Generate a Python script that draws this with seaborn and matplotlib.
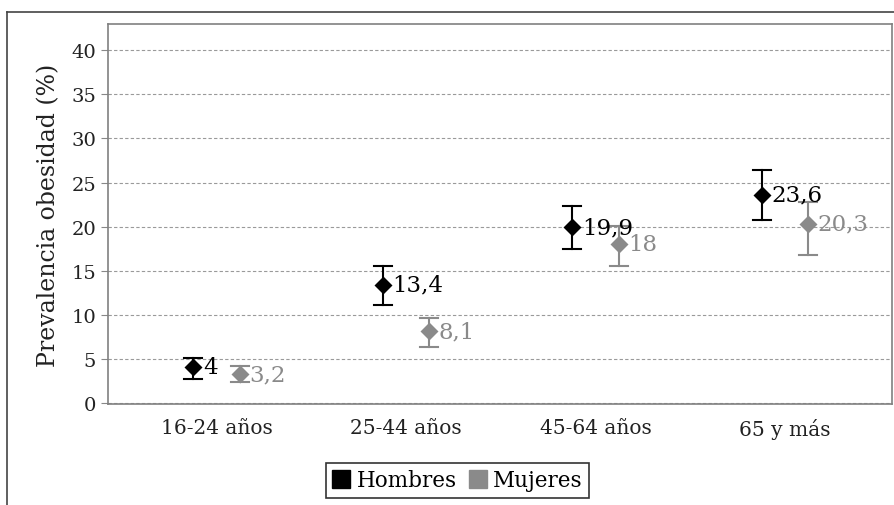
import pandas as pd
import matplotlib.pyplot as plt
import seaborn as sns
from matplotlib.lines import Line2D

# datos
grupos = ['16-24 años', '25-44 años', '45-64 años', '65 y más']
hombres = [4, 13.4, 19.9, 23.6]
hombres_inf = [2.7, 11.1, 17.4, 20.8]
hombres_sup = [5.1, 15.5, 22.3, 26.4]
mujeres = [3.2, 8.1, 18, 20.3]
mujeres_inf = [2.3, 6.3, 15.5, 16.8]
mujeres_sup = [4.2, 9.6, 20.1, 22.8]
etiquetas_h = ['4', '13,4', '19,9', '23,6']
etiquetas_m = ['3,2', '8,1', '18', '20,3']

colores = {'Hombres': '#000000', 'Mujeres': '#8a8a8a'}
sexos = ['Hombres', 'Mujeres']

# tabla larga: limite inferior, valor y limite superior por grupo (mediana = valor)
filas = []
for sexo, val, inf, sup in [('Hombres', hombres, hombres_inf, hombres_sup),
                            ('Mujeres', mujeres, mujeres_inf, mujeres_sup)]:
    for g, v, lo, hi in zip(grupos, val, inf, sup):
        for y in (lo, v, hi):
            filas.append({'grupo': g, 'sexo': sexo, 'valor': y})
df = pd.DataFrame(filas)

plt.rcParams['font.family'] = ['DejaVu Serif']
fig = plt.figure(figsize=(8.94, 5.06), dpi=100)
ax = fig.add_axes([108 / 894, 1 - 405 / 506, 784 / 894, 380 / 506])

dodge = 0.245
sns.pointplot(
    data=df, x='grupo', y='valor', hue='sexo', order=grupos, hue_order=sexos,
    estimator='median', errorbar=lambda v: (v.min(), v.max()),
    dodge=dodge, markers='D', linestyles='none', palette=colores,
    capsize=0.095, err_kws={'linewidth': 1.5}, markersize=7,
    legend=False, ax=ax, zorder=3
)

# etiquetas de valores
for i in range(len(grupos)):
    ax.annotate(etiquetas_h[i], (i - dodge / 2, hombres[i]), xytext=(7, 0),
                textcoords='offset points', va='center', ha='left',
                fontsize=16.5, color=colores['Hombres'], zorder=5)
    ax.annotate(etiquetas_m[i], (i + dodge / 2, mujeres[i]), xytext=(7, 0),
                textcoords='offset points', va='center', ha='left',
                fontsize=16.5, color=colores['Mujeres'], zorder=5)

ax.set_xlim(-0.5726, 3.565)
ax.set_ylim(-0.15, 43)
ax.set_yticks(range(0, 41, 5))
ax.yaxis.grid(True, linestyle=(0, (3, 2)), color='#9a9a9a', linewidth=0.8)
ax.set_axisbelow(True)
ax.tick_params(axis='x', length=0, pad=10, labelsize=14.5, colors='#222222')
ax.tick_params(axis='y', length=5, color='#888888', labelsize=14, labelcolor='#222222')
for s in ax.spines.values():
    s.set_color('#808080')
    s.set_linewidth(1.2)
ax.set_xlabel('')
ax.set_ylabel('Prevalencia obesidad (%)', fontsize=17, color='#222222', labelpad=8)

handles = [Line2D([], [], marker='s', color=colores[s], linestyle='none',
                  markersize=13, label=s) for s in sexos]
leg = fig.legend(handles=handles, loc='center', bbox_to_anchor=(0.512, 0.049),
                 ncol=2, fontsize=15.5, frameon=True, fancybox=False,
                 handletextpad=0.3, columnspacing=0.6, handlelength=0.8,
                 borderpad=0.3)
leg.get_frame().set_edgecolor('#000000')
leg.get_frame().set_linewidth(1.2)

# marco exterior
fig.add_artist(Line2D([7 / 894, 7 / 894], [0, 1 - 13 / 506], transform=fig.transFigure,
                      color='#444444', linewidth=1.2))
fig.add_artist(Line2D([7 / 894, 1], [1 - 13 / 506, 1 - 13 / 506], transform=fig.transFigure,
                      color='#444444', linewidth=1.2))

plt.savefig('out.png', dpi=100)
